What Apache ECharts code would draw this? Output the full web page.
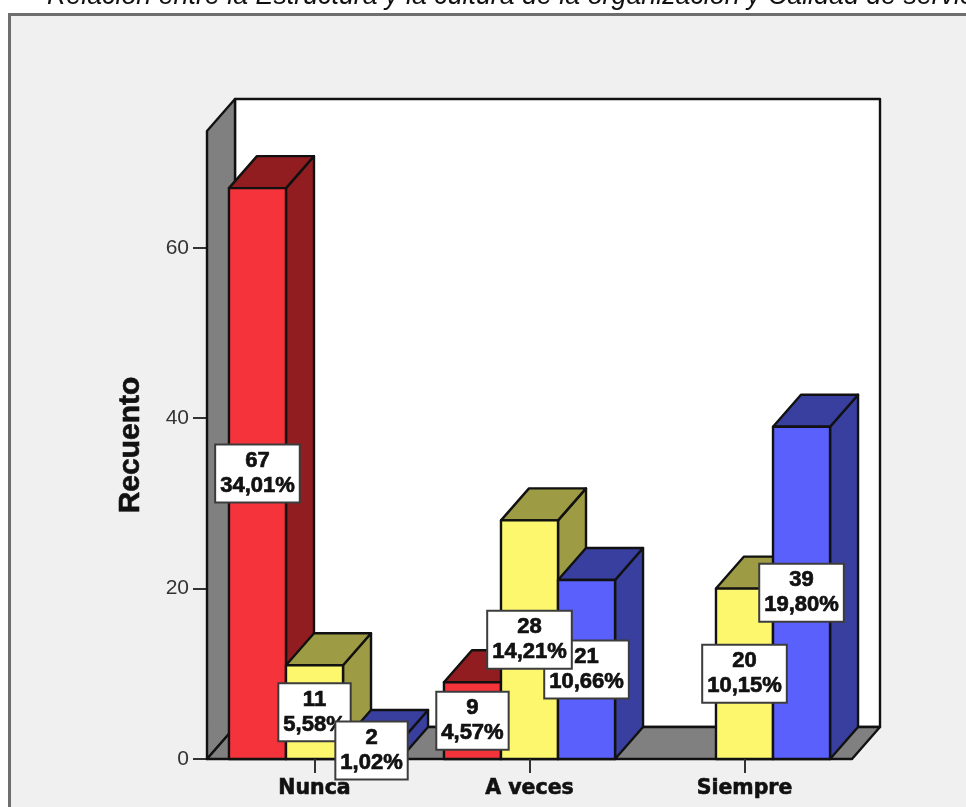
<!DOCTYPE html>
<html>
<head>
<meta charset="utf-8">
<style>html,body{margin:0;padding:0;background:#fff;overflow:hidden}#chart{width:966px;height:807px}</style>
<script src="https://cdn.jsdelivr.net/npm/echarts@6/dist/echarts.min.js"></script>
</head>
<body>
<div id="chart"></div>
<script>
// Recuento por categoría, agrupado por nivel de calidad de servicio
const categories = ['Nunca', 'A veces', 'Siempre'];
const groupNames = ['Bajo', 'Medio', 'Alto'];
const rojo = [67, 9, 0];
const amarillo = [11, 28, 20];
const azul = [2, 21, 39];
const pctRojo = ['34,01%', '4,57%', ''];
const pctAmarillo = ['5,58%', '14,21%', '10,15%'];
const pctAzul = ['1,02%', '10,66%', '19,80%'];
const yTicks = [0, 20, 40, 60];
const titleText = 'Relación entre la Estructura y la cultura de la organización y Calidad de servicio';

// Estilos y proyección oblicua
const DEPTH_X = 28, DEPTH_Y = 32, AXIS_MAX = 73.7, BAR_SLOTS = 3.77;
const INK = '#111';
const faces = [
  { front: '#f4333b', shade: '#921d21' },
  { front: '#fdf76e', shade: '#9e9b45' },
  { front: '#5a60fb', shade: '#393f9f' }
];
const groups = [
  { values: rojo, pct: pctRojo },
  { values: amarillo, pct: pctAmarillo },
  { values: azul, pct: pctAzul }
];

const barData = [];
groups.forEach((g, s) => g.values.forEach((v, c) => { if (v > 0) barData.push([c, v, s]); }));

// Orden de apilado de las etiquetas: la última queda encima
const labelOrder = [[0,0],[0,1],[0,2],[1,0],[1,2],[1,1],[2,1],[2,2]];
const labelData = labelOrder.map(([c, s]) => [c, groups[s].values[c], s, groups[s].pct[c]]);

const poly = (points, fill) => ({
  type: 'polygon',
  shape: { points },
  style: { fill, stroke: INK, lineWidth: 2.4, lineJoin: 'round' }
});

function renderWalls(params) {
  const g = params.coordSys;
  const x0 = g.x, x1 = g.x + g.width, yT = g.y, y0 = g.y + g.height;
  const dx = DEPTH_X, dy = DEPTH_Y;
  return {
    type: 'group',
    children: [
      poly([[x0 + dx, yT - dy], [x1 + dx, yT - dy], [x1 + dx, y0 - dy], [x0 + dx, y0 - dy]], '#fff'),
      poly([[x0, yT], [x0 + dx, yT - dy], [x0 + dx, y0 - dy], [x0, y0]], '#808080'),
      poly([[x0, y0], [x0 + dx, y0 - dy], [x1 + dx, y0 - dy], [x1, y0]], '#808080')
    ]
  };
}

function barBox(api, c, v, s) {
  const unit = api.size([1, 0])[0];
  const w = unit / BAR_SLOTS;
  const [cx, y0] = api.coord([c, 0]);
  const [, yTop] = api.coord([c, v]);
  const left = cx + (s - 1.5) * w;
  return { left, right: left + w, w, y0, yTop };
}

function renderBar(params, api) {
  const c = api.value(0), v = api.value(1), s = api.value(2);
  const b = barBox(api, c, v, s);
  const dx = DEPTH_X, dy = DEPTH_Y;
  return {
    type: 'group',
    children: [
      poly([[b.right, b.yTop], [b.right + dx, b.yTop - dy], [b.right + dx, b.y0 - dy], [b.right, b.y0]], faces[s].shade),
      poly([[b.left, b.yTop], [b.left + dx, b.yTop - dy], [b.right + dx, b.yTop - dy], [b.right, b.yTop]], faces[s].shade),
      poly([[b.left, b.yTop], [b.right, b.yTop], [b.right, b.y0], [b.left, b.y0]], faces[s].front)
    ]
  };
}

function renderLabel(params, api) {
  const c = api.value(0), v = api.value(1), s = api.value(2);
  const b = barBox(api, c, v, s);
  const pct = labelData[params.dataIndex][3];
  return {
    type: 'text',
    x: (b.left + b.right) / 2,
    y: (b.yTop + b.y0) / 2,
    style: {
      text: v + '\n' + pct,
      font: 'bold 22px "Liberation Sans", Arial, sans-serif',
      lineHeight: 25,
      fill: '#111',
      stroke: '#111',
      lineWidth: 0.7,
      align: 'center',
      verticalAlign: 'middle',
      backgroundColor: '#fff',
      borderColor: '#3c3c3c',
      borderWidth: 2,
      padding: [3, 4, 3, 4]
    }
  };
}

const chart = echarts.init(document.getElementById('chart'), null, { renderer: 'canvas' });
chart.setOption({
  animation: false,
  backgroundColor: '#fff',
  graphic: [
    {
      type: 'rect', z: -10,
      shape: { x: 9.5, y: 14.5, width: 1000, height: 900 },
      style: { fill: '#f0f0f0', stroke: '#6e6e6e', lineWidth: 3 }
    },
    {
      type: 'text', z: 5, x: 47, y: -17,
      style: {
        text: titleText,
        font: 'italic 26.8px "Liberation Sans", Arial, sans-serif',
        fill: '#111'
      }
    }
  ],
  grid: { left: 207, right: 114, top: 131, bottom: 48 },
  xAxis: {
    type: 'category',
    data: categories,
    z: 3,
    axisLine: { lineStyle: { color: INK, width: 2 } },
    axisTick: { alignWithLabel: true, show: true, length: 14, interval: 0, lineStyle: { color: '#333', width: 2 } },
    axisLabel: {
      interval: 0, margin: 19, color: '#111', textBorderColor: '#111', textBorderWidth: 0.6,
      fontFamily: '"DejaVu Sans", sans-serif', fontWeight: 'bold', fontSize: 20.5
    }
  },
  yAxis: {
    type: 'value',
    min: 0, max: AXIS_MAX, interval: 20,
    name: 'Recuento',
    nameLocation: 'middle',
    nameGap: 76,
    nameTextStyle: { fontFamily: '"Liberation Sans", Arial, sans-serif', fontWeight: 'bold', fontSize: 30, color: '#111', textBorderColor: '#111', textBorderWidth: 0.6, verticalAlign: 'middle' },
    splitLine: { show: false },
    axisLine: { show: false },
    axisTick: { show: true, length: 14, customValues: yTicks, lineStyle: { color: '#333', width: 2 } },
    axisLabel: {
      margin: 18, color: '#333', customValues: yTicks,
      fontFamily: '"Liberation Sans", Arial, sans-serif', fontSize: 21
    }
  },
  series: [
    { type: 'custom', name: 'Paredes', z: 1, renderItem: renderWalls, data: [[0, 0]], silent: true },
    ...groupNames.map((name, s) => ({
      type: 'custom', name, z: 2 + s,
      renderItem: renderBar,
      encode: { x: 0, y: 1 },
      data: barData.filter(d => d[2] === s)
    })),
    { type: 'custom', name: 'Etiquetas', z: 10, renderItem: renderLabel, encode: { x: 0, y: 1 }, data: labelData.map(d => d.slice(0, 3)) }
  ]
});
</script>
</body>
</html>
